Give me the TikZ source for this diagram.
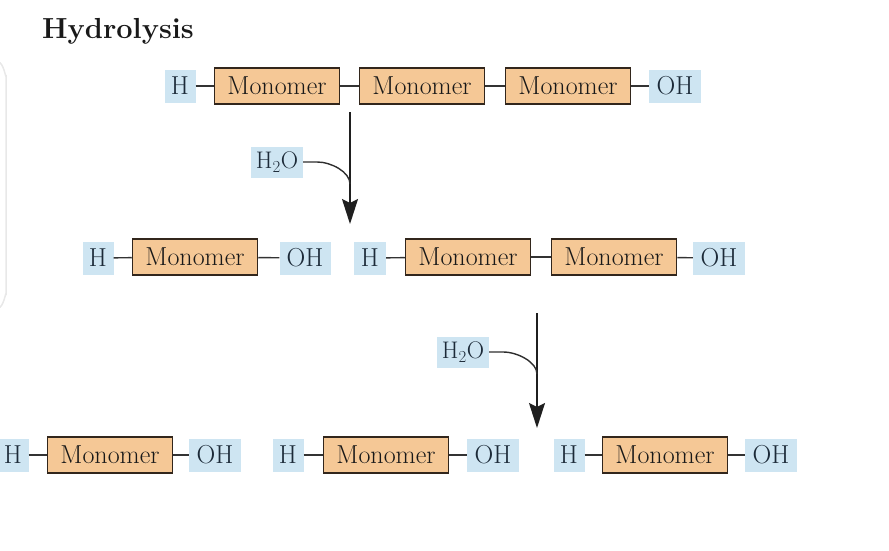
\documentclass[tikz,border=0pt]{standalone}
\usetikzlibrary{arrows.meta,calc}
\definecolor{capblue}{RGB}{206,229,242}
\definecolor{monofill}{RGB}{245,200,150}
\definecolor{monoline}{RGB}{50,38,28}
\definecolor{captext}{RGB}{28,42,56}
\definecolor{edgegray}{RGB}{232,232,232}
\tikzset{
  mono/.style={draw=monoline, line width=1.5pt, fill=monofill, minimum height=36pt,
    minimum width=125pt, inner sep=0pt, text=black!90,
    font=\fontsize{26}{26}\selectfont},
  capbox/.style={fill=capblue, minimum height=33pt, inner sep=3pt, text=captext,
    font=\fontsize{26}{26}\selectfont},
  waterbox/.style={fill=capblue, minimum height=31pt, minimum width=52pt, inner sep=2pt,
    text=captext, font=\fontsize{24}{24}\selectfont},
  bond/.style={line width=1.4pt, draw=black!80},
  rxn/.style={line width=1.5pt, draw=black!88, -{Stealth[length=25pt,width=16pt,inset=4pt]}},
  feed/.style={line width=1.4pt, draw=black!82},
  title/.style={font=\fontsize{29}{29}\selectfont\bfseries, text=black!90, anchor=base west, inner sep=0pt}
}
\begin{document}
\begin{tikzpicture}[x=1pt,y=-1pt]
\useasboundingbox (0,0) rectangle (889,550);
% faint screenshot edge
\draw[edgegray, line width=1.5pt] (-2,62) to[out=0,in=-90] (6,75) -- (6,295) to[out=90,in=0] (-2,308);
\node[title] (t) at (42,38) {Hydrolysis};
% Row 1
\node[capbox, minimum width=31pt] (a0) at (180,86) {H};
\node[mono] (a1) at (277,86) {Monomer};
\node[mono] (a2) at (422,86) {Monomer};
\node[mono] (a3) at (568,86) {Monomer};
\node[capbox, minimum width=52pt] (a4) at (675,86) {OH};
\draw[bond] (a0) -- (a1);
\draw[bond] (a1) -- (a2);
\draw[bond] (a2) -- (a3);
\draw[bond] (a3) -- (a4);
% Arrow 1
\coordinate (r1s) at (350,112);
\coordinate (r1e) at (350,224);
\coordinate (r1j) at (350,184);
\node[waterbox] (w1) at (277,162) {H\textsubscript{2}O};
\draw[rxn] (r1s) -- (r1e);
\draw[feed] (w1.east) -- ++(14,0) .. controls +(14,0) and ($(r1j)+(0,-12)$) .. (r1j);
% Row 2
\node[capbox, minimum width=31pt] (b0) at (98,258) {H};
\node[mono] (b1) at (195,257) {Monomer};
\node[capbox, minimum width=51pt] (b2) at (305,258) {OH};
\node[capbox, minimum width=32pt] (b3) at (370,258) {H};
\node[mono] (b4) at (468,257) {Monomer};
\node[mono] (b5) at (614,257) {Monomer};
\node[capbox, minimum width=52pt] (b6) at (719,258) {OH};
\draw[bond] (b0) -- (b1);
\draw[bond] (b1) -- (b2);
\draw[bond] (b3) -- (b4);
\draw[bond] (b4) -- (b5);
\draw[bond] (b5) -- (b6);
% Arrow 2
\coordinate (r2s) at (537,313);
\coordinate (r2e) at (537,428);
\coordinate (r2j) at (537,374);
\node[waterbox] (w2) at (463,352) {H\textsubscript{2}O};
\draw[rxn] (r2s) -- (r2e);
\draw[feed] (w2.east) -- ++(14,0) .. controls +(14,0) and ($(r2j)+(0,-12)$) .. (r2j);
% Row 3
\node[capbox, minimum width=31pt] (c0) at (13,455) {H};
\node[mono] (c1) at (110,455) {Monomer};
\node[capbox, minimum width=52pt] (c2) at (215,455) {OH};
\node[capbox, minimum width=31pt] (c3) at (288,455) {H};
\node[mono] (c4) at (386,455) {Monomer};
\node[capbox, minimum width=52pt] (c5) at (493,455) {OH};
\node[capbox, minimum width=31pt] (c6) at (569,455) {H};
\node[mono] (c7) at (665,455) {Monomer};
\node[capbox, minimum width=52pt] (c8) at (771,455) {OH};
\draw[bond] (c0) -- (c1);
\draw[bond] (c1) -- (c2);
\draw[bond] (c3) -- (c4);
\draw[bond] (c4) -- (c5);
\draw[bond] (c6) -- (c7);
\draw[bond] (c7) -- (c8);
\end{tikzpicture}
\end{document}
